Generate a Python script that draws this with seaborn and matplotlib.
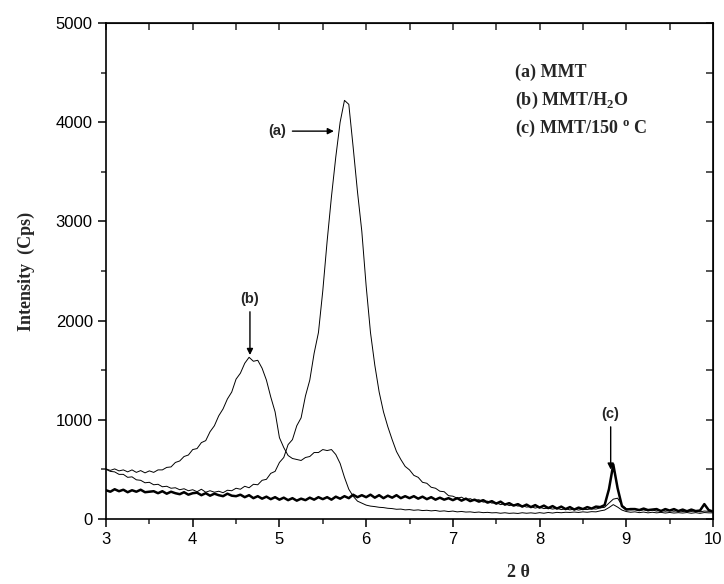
import numpy as np
import pandas as pd
import seaborn as sns
from matplotlib import pyplot as plt
from matplotlib.ticker import MultipleLocator

# 2-theta sampling grid, 3.00 .. 10.00 in 0.05 steps
two_theta = np.round(np.arange(3.0, 10.0001, 0.05), 2)

# (a) MMT
mmt = [
    500, 480, 475, 450, 450, 420, 425, 395, 390, 365,
    370, 345, 350, 325, 330, 310, 315, 295, 305, 285,
    295, 275, 300, 270, 285, 270, 280, 265, 290, 285,
    310, 300, 330, 315, 350, 345, 390, 400, 460, 480,
    570, 620, 750, 800, 940, 1020, 1240, 1400, 1670, 1880,
    2300, 2800, 3250, 3650, 4000, 4220, 4180, 3750, 3300, 2900,
    2350, 1880, 1550, 1280, 1080, 930, 800, 680, 600, 530,
    495, 440, 420, 370, 360, 320, 310, 280, 275, 235,
    230, 210, 220, 195, 205, 185, 195, 170, 180, 160,
    165, 145, 155, 135, 145, 130, 135, 120, 125, 110,
    120, 105, 110, 100, 108, 95, 102, 92, 100, 90,
    98, 95, 104, 100, 112, 118, 160, 200, 210, 140,
    105, 92, 95, 85, 92, 82, 90, 80, 88, 78,
    85, 78, 86, 75, 82, 76, 84, 72, 80, 78,
    75,
]

# (b) MMT/H2O
mmt_h2o = [
    505, 490, 505, 485, 495, 475, 495, 470, 488, 465,
    485, 470, 495, 495, 520, 525, 570, 585, 630, 645,
    700, 710, 770, 790, 880, 940, 1040, 1110, 1210, 1280,
    1410, 1470, 1570, 1630, 1590, 1600, 1520, 1400, 1230, 1080,
    820, 720, 640, 610, 600, 590, 620, 630, 670, 670,
    700, 690, 700, 650, 560, 420, 300, 230, 180, 160,
    140, 130, 125, 118, 115, 108, 105, 98, 100, 92,
    95, 88, 92, 85, 88, 82, 86, 78, 82, 75,
    80, 72, 76, 70, 72, 66, 70, 64, 67, 62,
    64, 58, 63, 57, 60, 56, 63, 58, 62, 57,
    64, 58, 66, 60, 67, 63, 68, 66, 70, 66,
    72, 68, 74, 72, 82, 90, 115, 145, 120, 90,
    75, 68, 72, 64, 70, 62, 68, 62, 67, 60,
    66, 60, 64, 60, 65, 58, 64, 57, 65, 62,
    62,
]

# (c) MMT/150 C
mmt_150 = [
    290, 275, 300, 280, 295, 270, 290, 275, 295, 270,
    275, 280, 260, 280, 255, 275, 260, 250, 270, 245,
    260, 265, 240, 260, 235, 255, 240, 230, 255, 235,
    230, 245, 220, 240, 210, 230, 205, 225, 200, 220,
    195, 215, 190, 210, 185, 205, 190, 215, 195, 220,
    200, 220, 195, 225, 205, 230, 210, 245, 220, 240,
    220, 245, 215, 240, 210, 235, 215, 240, 210, 230,
    210, 230, 205, 225, 200, 220, 195, 215, 195, 210,
    190, 210, 185, 205, 180, 195, 175, 190, 165, 180,
    155, 175, 145, 160, 135, 150, 125, 145, 120, 140,
    115, 135, 110, 130, 105, 125, 100, 120, 95, 115,
    100, 120, 105, 125, 120, 140, 300, 550, 310, 130,
    95, 100, 100, 90, 105, 90, 95, 100, 80, 100,
    85, 100, 80, 95, 78, 95, 80, 85, 150, 90,
    75,
]

legend_lines = ["(a) MMT", "(b) MMT/H$_\\mathregular{2}$O", "(c) MMT/150 $^\\mathregular{o}$ C"]

df = pd.DataFrame({
    "two_theta": np.tile(two_theta, 3),
    "intensity": mmt + mmt_h2o + mmt_150,
    "sample": ["a"] * len(mmt) + ["b"] * len(mmt_h2o) + ["c"] * len(mmt_150),
})

sns.set_style("ticks")
plt.rcParams["font.family"] = ["Liberation Sans", "DejaVu Sans"]
plt.rcParams["mathtext.fontset"] = "custom"
plt.rcParams["mathtext.rm"] = "Liberation Serif:bold"

fig = plt.figure(figsize=(7.24, 5.84), dpi=100)
ax = fig.add_axes([106 / 724, 1 - 519 / 584, 607 / 724, 496 / 584])

widths = {"a": 0.7, "b": 0.7, "c": 1.8}
for s in ["a", "b", "c"]:
    sns.lineplot(data=df[df["sample"] == s], x="two_theta", y="intensity",
                 color="black", linewidth=widths[s], ax=ax)

ax.set_xlim(3, 10)
ax.set_ylim(0, 5000)
ax.xaxis.set_major_locator(MultipleLocator(1))
ax.xaxis.set_minor_locator(MultipleLocator(0.5))
ax.yaxis.set_major_locator(MultipleLocator(1000))
ax.yaxis.set_minor_locator(MultipleLocator(500))
ax.tick_params(which="major", direction="out", length=6, width=1.1,
               labelsize=12, colors="black")
ax.tick_params(which="minor", direction="out", length=3.5, width=1.1)
for sp in ax.spines.values():
    sp.set_visible(True)
    sp.set_linewidth(1.2)
    sp.set_color("black")

top = ax.secondary_xaxis("top")
top.set_xticks(np.arange(3, 10.01, 0.5))
top.tick_params(direction="in", length=5, width=1.1, labeltop=False)
right = ax.secondary_yaxis("right")
right.set_yticks(np.arange(0, 5001, 500))
right.tick_params(direction="in", length=5, width=1.1, labelright=False)

ax.set_xlabel("2 θ", family="Liberation Serif", fontweight="bold", fontsize=13)
ax.xaxis.set_label_coords(0.68, -0.09)
ax.set_ylabel("Intensity  (Cps)", family="Liberation Serif", fontweight="bold",
              fontsize=13, labelpad=15)

arrow = dict(arrowstyle="-|>", color="black", lw=1.0, mutation_scale=9)
ax.annotate("(a)", xy=(5.66, 3910), xytext=(5.08, 3910), ha="right", va="center",
            fontsize=10.5, fontweight="bold", arrowprops=arrow)
ax.annotate("(b)", xy=(4.66, 1625), xytext=(4.66, 2150), ha="center", va="bottom",
            fontsize=10.5, fontweight="bold", arrowprops=arrow)
ax.annotate("(c)", xy=(8.82, 470), xytext=(8.82, 990), ha="center", va="bottom",
            fontsize=10.5, fontweight="bold", arrowprops=arrow)

for txt, yv in zip(legend_lines, [4500, 4220, 3940]):
    ax.text(7.72, yv, txt, family="Liberation Serif", fontweight="bold",
            fontsize=13, ha="left", va="center")

fig.savefig("out.png", dpi=100)
